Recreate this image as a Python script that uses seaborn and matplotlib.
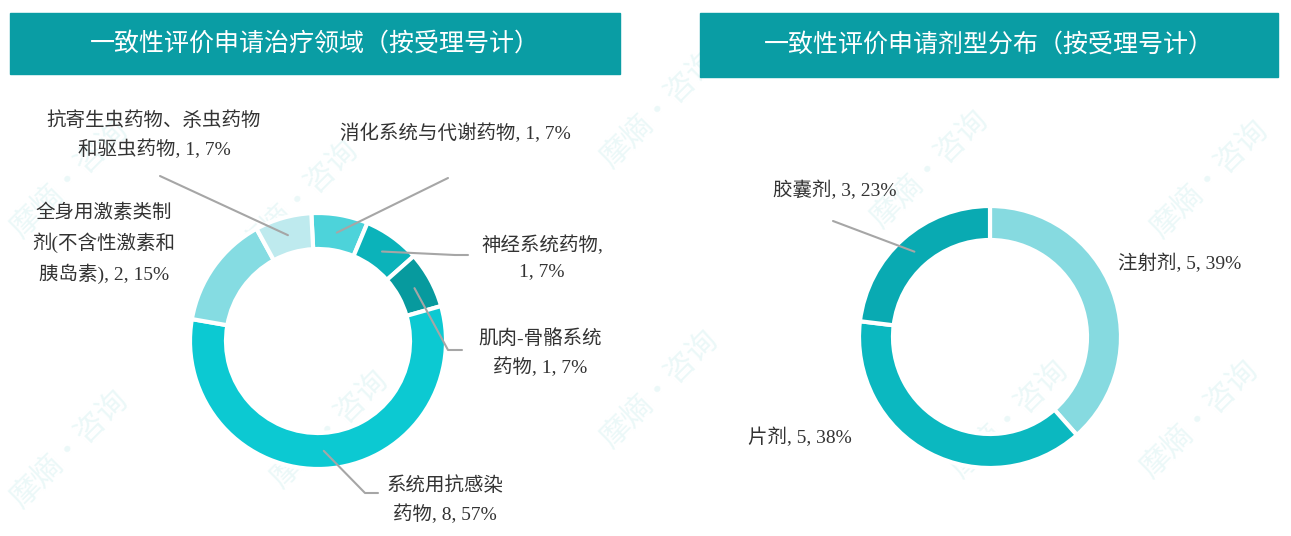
import matplotlib.pyplot as plt
import seaborn as sns
import numpy as np
from matplotlib.patches import Rectangle

# data
area_labels = ["消化系统与代谢药物", "神经系统药物", "肌肉-骨骼系统药物",
               "系统用抗感染药物", "全身用激素类制剂(不含性激素和胰岛素)",
               "抗寄生虫药物、杀虫药物和驱虫药物"]
area_counts = [1, 1, 1, 8, 2, 1]
area_pcts = ["7%", "7%", "7%", "57%", "15%", "7%"]

form_labels = ["注射剂", "片剂", "胶囊剂"]
form_counts = [5, 5, 3]
form_pcts = ["39%", "38%", "23%"]

area_colors = ["#4DD3DA", "#0BB3BA", "#079A9E", "#0CC9D2", "#85DCE2", "#BEEAEE"]
form_colors = ["#86DAE0", "#0BB8C0", "#09AAB2"]

sns.set_theme(style="white")
plt.rcParams["font.family"] = ["Liberation Serif", "Noto Sans CJK SC", "DejaVu Sans"]

W, H = 1291, 536
fig = plt.figure(figsize=(W / 100, H / 100), dpi=100)
ax = fig.add_axes([0, 0, 1, 1])


def Y(y):
    return H - y


# faint watermark
for wx, wy in [(300, 200), (330, 430), (660, 110), (660, 390), (930, 170),
               (1010, 420), (1210, 180), (1200, 420), (70, 450), (70, 180)]:
    ax.text(wx, Y(wy), "摩熵·咨询", rotation=45, fontsize=22, color="#EBF8F8",
            ha="center", va="center", family=["Noto Sans CJK SC"], zorder=0)

# title bars
for x0, x1, y0, y1, title in [(10, 620, 13, 74, "一致性评价申请治疗领域（按受理号计）"),
                              (700, 1278, 13, 77, "一致性评价申请剂型分布（按受理号计）")]:
    ax.add_patch(Rectangle((x0, Y(y1)), x1 - x0, y1 - y0, color="#0A9DA4", zorder=1))
    ax.text((x0 + x1) / 2, Y((y0 + y1) / 2), title, color="white", fontsize=18,
            ha="center", va="center", family=["Noto Sans CJK SC"], zorder=2)


def donut(values, colors, center, radius, width, start):
    wedges, _ = ax.pie(values, colors=colors, startangle=start, counterclock=False,
                       center=(center[0], Y(center[1])), radius=radius,
                       wedgeprops=dict(width=width, edgecolor="white", linewidth=3))
    return wedges


def anchor(w):
    t = np.deg2rad((w.theta1 + w.theta2) / 2)
    r = w.r - w.width / 2
    return w.center[0] + r * np.cos(t), w.center[1] + r * np.sin(t)


left = donut(area_counts, area_colors, (318, 341), 128, 36, 93)
right = donut(form_counts, form_colors, (990, 337), 131, 34, 90)

# label texts
left_text = [
    f"消化系统与代谢药物, {area_counts[0]}, {area_pcts[0]}",
    f"神经系统药物,\n{area_counts[1]}, {area_pcts[1]}",
    f"肌肉-骨骼系统\n药物, {area_counts[2]}, {area_pcts[2]}",
    f"系统用抗感染\n药物, {area_counts[3]}, {area_pcts[3]}",
    f"全身用激素类制\n剂(不含性激素和\n胰岛素), {area_counts[4]}, {area_pcts[4]}",
    f"抗寄生虫药物、杀虫药物\n和驱虫药物, {area_counts[5]}, {area_pcts[5]}",
]
left_pos = [(455, 133), (542, 258), (540, 353), (445, 500), (104, 244), (154, 135)]
left_leader = [[(448, 178)], [(455, 255), (468, 255)], [(448, 350), (462, 350)],
               [(365, 493), (378, 493)], None, [(160, 176)]]

right_text = [f"{l}, {c}, {p}" for l, c, p in zip(form_labels, form_counts, form_pcts)]
right_pos = [(1180, 263), (800, 437), (835, 190)]
right_leader = [None, None, [(833, 221)]]

for wedges, texts, poss, leaders in [(left, left_text, left_pos, left_leader),
                                     (right, right_text, right_pos, right_leader)]:
    for w, t, (px, py), ld in zip(wedges, texts, poss, leaders):
        ax.text(px, Y(py), t, fontsize=14, color="#333333", ha="center", va="center",
                linespacing=1.65, zorder=4)
        if ld:
            sx, sy = anchor(w)
            xs = [sx] + [p[0] for p in ld]
            ys = [sy] + [Y(p[1]) for p in ld]
            ax.plot(xs, ys, color="#A6A6A6", lw=1.5, zorder=3)

ax.set_xlim(0, W)
ax.set_ylim(0, H)
ax.set_aspect("auto")
ax.axis("off")

fig.savefig("out.png", dpi=100)
